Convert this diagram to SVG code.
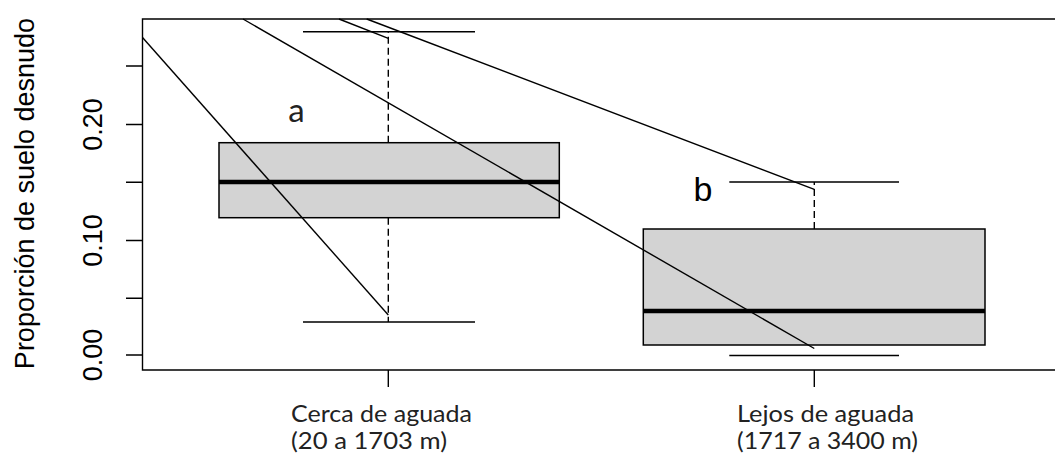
<svg xmlns="http://www.w3.org/2000/svg" width="1055" height="468" viewBox="0 0 1055 468">
<style>
.ln{stroke:#000;stroke-width:1.4;fill:none}
.box{fill:#d3d3d3;stroke:#000;stroke-width:1.5}
.med{stroke:#000;stroke-width:4.5}
.dash{stroke:#000;stroke-width:1.4;stroke-dasharray:7 4;fill:none}
.tick{font-family:"Liberation Sans",Arial,sans-serif;font-size:27px;fill:#000}
.cat{font-family:Lato,"Open Sans",sans-serif;font-size:22.5px;fill:#222}
</style>
<rect width="1055" height="468" fill="#fff"/>
<g id="axes">
<path class="ln" d="M1056 19H142.5V370H1056"/>
<path class="ln" d="M126 66H142.5M126 124.5H142.5M126 182.2H142.5M126 240.5H142.5M126 298.3H142.5M126 355H142.5"/>
<path class="ln" d="M388.3 370V387M814.3 370V387"/>
<text class="tick" transform="translate(102,355) rotate(-90)" text-anchor="middle">0.00</text>
<text class="tick" transform="translate(102,240.5) rotate(-90)" text-anchor="middle">0.10</text>
<text class="tick" transform="translate(102,124.5) rotate(-90)" text-anchor="middle">0.20</text>
<text class="tick" transform="translate(34,193.5) rotate(-90)" text-anchor="middle" font-size="28">Proporción de suelo desnudo</text>
<text class="cat" x="291" y="422" textLength="181" lengthAdjust="spacingAndGlyphs">Cerca de aguada</text>
<text class="cat" x="291" y="448.5" textLength="156" lengthAdjust="spacingAndGlyphs">(20 a 1703 m)</text>
<text class="cat" x="737" y="422" textLength="177" lengthAdjust="spacingAndGlyphs">Lejos de aguada</text>
<text class="cat" x="737" y="448.5" textLength="181" lengthAdjust="spacingAndGlyphs">(1717 a 3400 m)</text>
</g>
<g id="box1">
<path class="dash" d="M388.3 142.7V31.7M388.3 217.7V322"/>
<path class="ln" d="M303 31.7H475M303 322H475"/>
<rect class="box" x="219" y="142.7" width="340.3" height="75"/>
<path class="med" d="M219 182H559.3"/>
<text x="296.5" y="121.5" text-anchor="middle" font-family="Lato,'Open Sans',sans-serif" font-size="33" fill="#222">a</text>
</g>
<g id="box2">
<path class="dash" d="M814.3 229V182"/>
<path class="ln" d="M729.3 182H899M729.3 355.5H899"/>
<rect class="box" x="643.3" y="229" width="341.7" height="116"/>
<path class="med" d="M643.3 311H985"/>
<text x="693.5" y="201" font-family="'Liberation Sans',Arial,sans-serif" font-size="34" fill="#000">b</text>
</g>
<g id="connectors">
<line class="ln" x1="142.5" y1="37.5" x2="388.3" y2="315"/>
<line class="ln" x1="243" y1="19" x2="814.3" y2="348.5"/>
<line class="ln" x1="339" y1="19" x2="388.3" y2="38.3"/>
<line class="ln" x1="366.7" y1="19" x2="814.3" y2="189.3"/>
</g>
</svg>
